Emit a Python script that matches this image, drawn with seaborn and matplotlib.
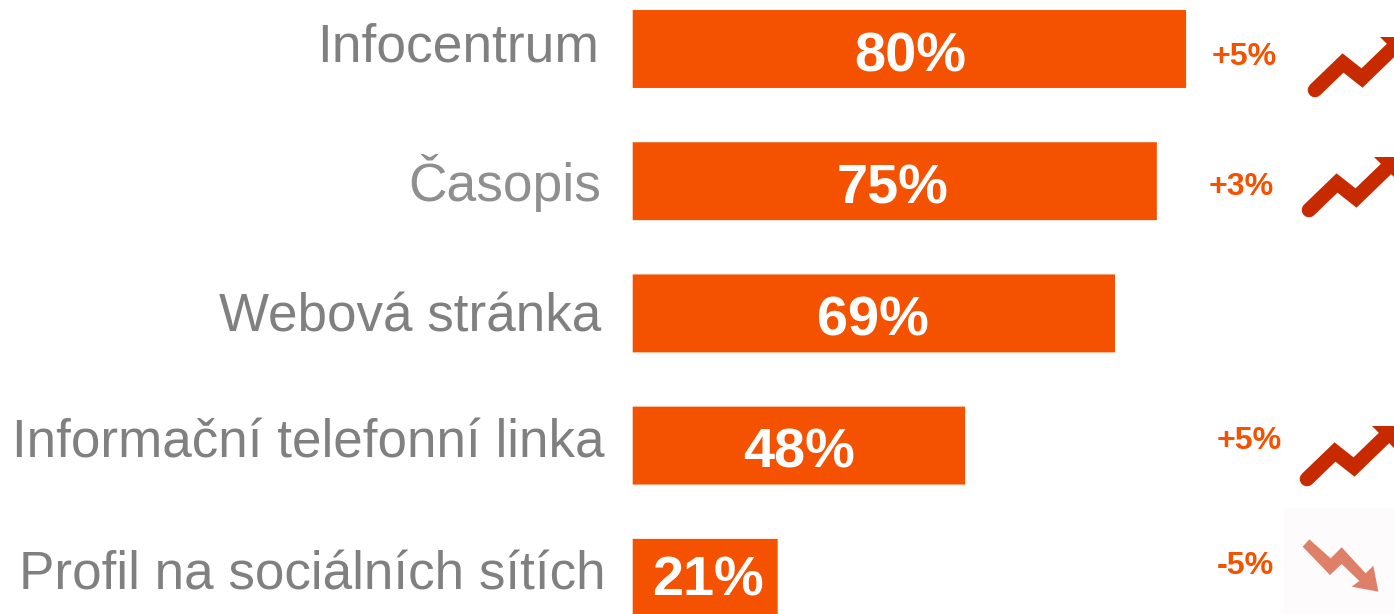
import matplotlib
matplotlib.use("Agg")
import matplotlib.pyplot as plt
import pandas as pd
import seaborn as sns
from matplotlib.patches import Polygon, Rectangle
from matplotlib.transforms import Affine2D

categories = ["Infocentrum", "Časopis", "Webová stránka",
              "Informační telefonní linka", "Profil na sociálních sítích"]
values = [79.6, 75.4, 69.4, 47.9, 21.0]
changes = ["+5%", "+3%", "", "+5%", "-5%"]

W, H = 1394, 614
ORANGE = "#F45100"
sns.set_theme(style="white")
plt.rcParams["font.family"] = ["Liberation Sans", "DejaVu Sans"]

fig = plt.figure(figsize=(W / 100, H / 100), dpi=100, facecolor="white")
ax = fig.add_axes([632 / W, 0, (W - 632) / W, 1])
df = pd.DataFrame({"category": categories, "value": values})
sns.barplot(data=df, y="category", x="value", order=categories, color=ORANGE,
            saturation=1, width=0.6, orient="h", ax=ax)
ax.set_xlim(0, (W - 632) / 6.97)
ax.set_ylim((614 - 49) / 132.2, -49 / 132.2)
for bar in ax.patches:
    bar.set_snap(False)
ax.set_xlabel("")
ax.set_ylabel("")
ax.set_xticks([])
ax.set_yticks([])
sns.despine(ax=ax, left=True, bottom=True, top=True, right=True)
ax.patch.set_alpha(0)

# pixel-space overlay (y measured from the top edge of the image)
px = Affine2D().scale(1, -1).translate(0, H)


def put(x, y, s, **kw):
    fig.text(x, y, s, transform=px, va="baseline", **kw)


label_pos = [(598.5, 62), (601.5, 201), (601, 331), (604, 457), (606, 590)]
label_col = ["#808080", "#8F8F8F", "#808080", "#808080", "#808080"]
label_size = [38.4, 38.4, 38.2, 38.15, 38.15]
for name, (x, y), c, fs in zip(categories, label_pos, label_col, label_size):
    put(x, y, name, ha="right", fontsize=fs, color=c)

value_pos = [(910, 72), (893, 203), (873, 335), (799, 467), (708, 596)]
for v, (x, y) in zip(values, value_pos):
    put(x, y, f"{round(v)}%", ha="center", fontsize=40.2,
        fontweight="bold", color="white")

change_pos = [(1244, 65), (1241, 195), None, (1249, 449), (1245, 574)]
for s, pos in zip(changes, change_pos):
    if pos:
        put(pos[0], pos[1], s, ha="center", fontsize=23.2,
            fontweight="bold", color=ORANGE)

# decorative trend icons
fig.add_artist(Rectangle((1284, 508), 110, 106, transform=px,
                         facecolor="#FDFBFB", edgecolor="none"))


def up_icon(dx, dy):
    line_x = [1315, 1343, 1362, 1392]
    line_y = [90, 63, 78, 49]
    fig.add_artist(plt.Line2D([x + dx for x in line_x], [y + dy for y in line_y],
                              transform=px, color="#C82A00", lw=10.5,
                              solid_capstyle="round", solid_joinstyle="miter"))
    head = [(1380, 37), (1412, 37), (1412, 69)]
    fig.add_artist(Polygon([(x + dx, y + dy) for x, y in head], closed=True,
                           transform=px, facecolor="#C82A00", edgecolor="none"))


for offset in [(0, 0), (-6, 120), (-8, 389)]:
    up_icon(*offset)

down = [(358, 418), (338, 440), (420, 525), (455, 492), (508, 543), (485, 560),
        (565, 575), (550, 497), (527, 520), (455, 442), (422, 475)]
fig.add_artist(Polygon([(1190 + x / 3, 400 + y / 3) for x, y in down], closed=True,
                       transform=px, facecolor="#DE7F68", edgecolor="none"))

fig.savefig("out.png", dpi=100, facecolor="white")
